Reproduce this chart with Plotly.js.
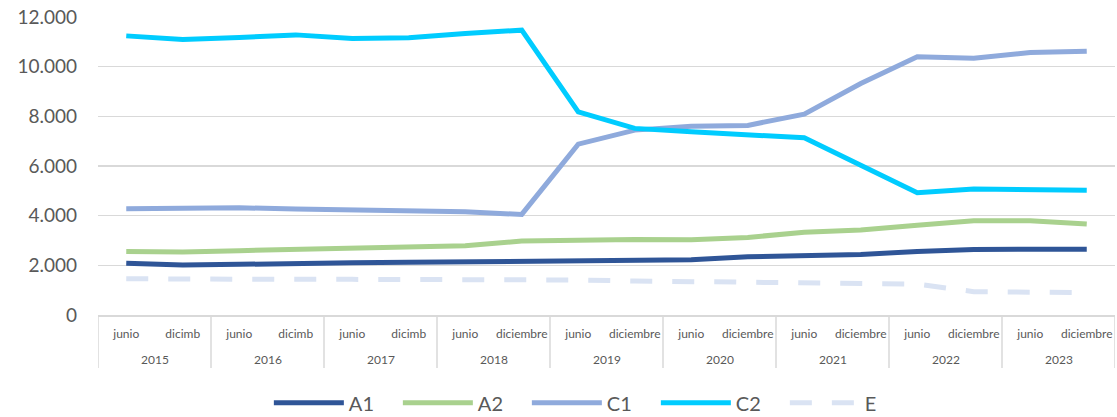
<!DOCTYPE html>
<html>
<head>
<meta charset="utf-8">
<script src="https://cdn.plot.ly/plotly-3.0.1.min.js"></script>
<style>html,body{margin:0;padding:0;background:#fff;}#chart{width:1117px;height:417px;}</style>
</head>
<body>
<div id="chart"></div>
<script>
const years = ["2015","2015","2016","2016","2017","2017","2018","2018","2019","2019","2020","2020","2021","2021","2022","2022","2023","2023"];
const periods = ["junio","dicimb","junio","dicimb","junio","dicimb","junio","diciembre","junio","diciembre","junio","diciembre","junio","diciembre","junio","diciembre","junio","diciembre"];

const A1 = [2080,2010,2040,2090,2105,2120,2135,2170,2185,2210,2225,2345,2385,2440,2560,2640,2645,2645];
const A2 = [2560,2535,2590,2640,2655,2750,2790,2975,3020,3045,3030,3125,3330,3420,3610,3795,3795,3660];
const C1 = [4280,4305,4320,4265,4225,4225,4155,4050,6880,7445,7605,7635,8090,9320,10395,10340,10570,10625];
const C2 = [11240,11095,11175,11280,11135,11160,11335,11470,8180,7515,7375,7270,7135,6035,4920,5070,5070,5020];
const E  = [1460,1435,1435,1435,1435,1435,1435,1460,1410,1370,1340,1315,1300,1275,1245,940,900,900];

const seriesNames = ["A1","A2","C1","C2","E"];
const seriesData = [A1, A2, C1, C2, E];
const colors = ["#2F5597","#A9D18E","#8FAADC","#00CCFF","#DAE3F3"];
const dashes = ["solid","solid","solid","solid","22px,20px"];

const idx = periods.map((_, i) => i);

const traces = seriesNames.map((n, i) => ({
  type: "scatter",
  mode: "lines",
  name: n,
  x: idx,
  y: seriesData[i],
  line: {color: colors[i], width: 5, dash: dashes[i]},
  hoverinfo: "y+name"
}));

// year groups
const groups = [];
years.forEach((y, i) => {
  if (!groups.length || groups[groups.length - 1].year !== y) groups.push({year: y, start: i, end: i});
  else groups[groups.length - 1].end = i;
});

const divColor = "#d9d9d9";
const divBottom = -0.178;
const shapes = [];
groups.forEach((g, k) => {
  shapes.push({type: "line", xref: "x", yref: "paper", x0: g.start - 0.5, x1: g.start - 0.5, y0: 0, y1: divBottom, line: {color: divColor, width: 1.5}});
  if (k === groups.length - 1)
    shapes.push({type: "line", xref: "x", yref: "paper", x0: g.end + 0.5, x1: g.end + 0.5, y0: 0, y1: divBottom, line: {color: divColor, width: 1.5}});
});

const annotations = groups.map(g => ({
  xref: "x", yref: "paper",
  x: (g.start + g.end) / 2, y: -0.148,
  text: g.year, showarrow: false,
  xanchor: "center", yanchor: "middle",
  font: {size: 12, color: "#595959"}
}));

const layout = {
  width: 1117,
  height: 417,
  margin: {l: 98, r: 2, t: 17, b: 102},
  paper_bgcolor: "#ffffff",
  plot_bgcolor: "#ffffff",
  separators: ",.",
  font: {family: "Lato, 'Open Sans', sans-serif", color: "#595959"},
  xaxis: {
    type: "linear",
    range: [-0.5, periods.length - 0.5],
    tickmode: "array",
    tickvals: idx,
    ticktext: periods,
    tickangle: 0,
    showgrid: false,
    showline: true,
    linecolor: divColor,
    linewidth: 1.5,
    tickfont: {size: 12, color: "#595959"},
    ticklabelstandoff: 7,
    ticks: "",
    zeroline: false
  },
  yaxis: {
    range: [0, 12000],
    tickvals: [0,2000,4000,6000,8000,10000,12000],
    tickformat: ",.0f",
    showgrid: true,
    gridcolor: divColor,
    gridwidth: 1.5,
    zeroline: false,
    showline: false,
    tickfont: {size: 19, color: "#595959"},
    ticklabelstandoff: 20
  },
  shapes: shapes,
  annotations: annotations,
  showlegend: true,
  legend: {
    orientation: "h",
    x: 0.168, xanchor: "left",
    yref: "container", y: 0.034, yanchor: "middle",
    font: {size: 20, color: "#595959"},
    itemwidth: 70,
    entrywidth: 44,
    entrywidthmode: "pixels",
    traceorder: "normal"
  }
};

Plotly.newPlot("chart", traces, layout, {displayModeBar: false, staticPlot: true});
</script>
</body>
</html>
